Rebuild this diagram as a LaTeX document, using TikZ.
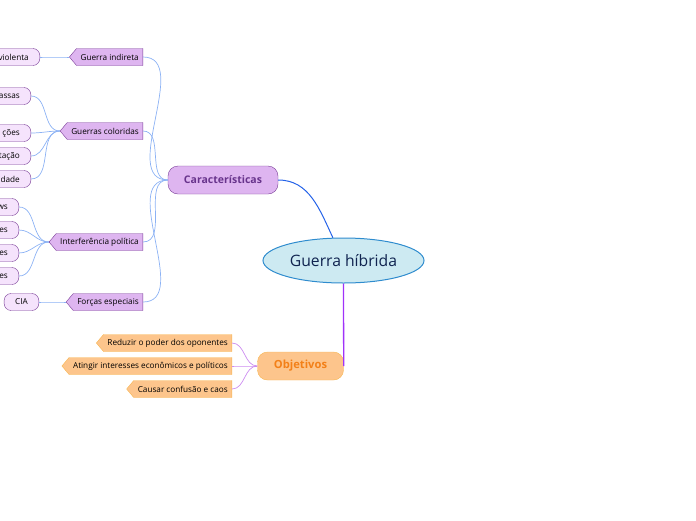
\documentclass[tikz,border=0pt]{standalone}
\usepackage{fontspec}
\setmainfont{Open Sans}
\usepackage{xcolor}
\usetikzlibrary{shapes.geometric,shapes.symbols}
\definecolor{skyfill}{RGB}{205,234,242}
\definecolor{skyedge}{RGB}{47,140,206}
\definecolor{navy}{RGB}{16,36,80}
\definecolor{plumfill}{RGB}{222,181,240}
\definecolor{plumedge}{RGB}{122,62,152}
\definecolor{plumtext}{RGB}{104,52,140}
\definecolor{lilac}{RGB}{245,227,252}
\definecolor{peach}{RGB}{253,197,140}
\definecolor{peachedge}{RGB}{247,182,80}
\definecolor{tangerine}{RGB}{243,128,24}
\definecolor{trunkblue}{RGB}{36,98,232}
\definecolor{twigblue}{RGB}{140,178,244}
\definecolor{trunkviolet}{RGB}{160,50,250}
\definecolor{twigviolet}{RGB}{204,140,240}

\begin{document}
\begin{tikzpicture}[x=1pt,y=-1pt,
  font=\fontsize{8.2}{9}\selectfont,
  hub/.style={ellipse,draw=skyedge,fill=skyfill,line width=1pt,minimum width=161pt,minimum height=45pt,inner sep=0pt,text=navy,font=\fontsize{15.7}{17}\selectfont},
  topic/.style={rectangle,rounded corners=10pt,draw=plumedge,fill=plumfill,minimum width=110pt,minimum height=28pt,text=plumtext,font=\fontsize{10.5}{12}\selectfont\bfseries},
  goal/.style={rectangle,rounded corners=10pt,draw=peachedge,fill=peach,minimum width=86pt,minimum height=28pt,text=tangerine,font=\fontsize{11.2}{12}\selectfont\bfseries},
  sub/.style={signal,signal to=west,signal pointer angle=100,draw=plumedge,fill=plumfill,minimum height=17pt,inner xsep=4pt,inner ysep=0pt,anchor=east},
  aim/.style={signal,signal to=west,signal pointer angle=100,draw=peachedge,fill=peach,minimum height=17pt,inner xsep=4pt,inner ysep=0pt,anchor=east},
  leaf/.style={rectangle,rounded corners=7pt,draw=plumedge,fill=lilac,minimum height=17pt,inner xsep=11pt,inner ysep=0pt,anchor=east},
  cutleaf/.style={leaf,text width=60pt,align=right},
  trunk/.style={draw=trunkblue,line width=1pt},
  twig/.style={draw=twigblue,line width=0.7pt},
  vtrunk/.style={draw=trunkviolet,line width=1.3pt},
  vtwig/.style={draw=twigviolet,line width=0.7pt}
]
\useasboundingbox (0,0) rectangle (696,520);

% centre and main branches
\node[hub] (gh) at (343.5,260.5) {Guerra híbrida};
\node[topic] (car) at (223,180) {Características};
\node[goal] (ob) at (300.5,366) {Objetivos};

% caracteristicas
\node[sub] (gi) at (143,57) {Guerra indireta};
\node[sub] (gc) at (143,131) {Guerras coloridas};
\node[sub] (ip) at (143,242) {Interferência política};
\node[sub] (fe) at (143,302) {Forças especiais};

\node[cutleaf] (l1) at (40,57) {violenta};
\node[cutleaf] (l2) at (31,96) {assas};
\node[cutleaf] (l3) at (31,133) {ções};
\node[cutleaf] (l4) at (31,156) {tação};
\node[cutleaf] (l5) at (31,179) {dade};
\node[cutleaf] (l6) at (19,207) {ws};
\node[cutleaf] (l7) at (19,230) {es};
\node[cutleaf] (l8) at (19,253) {es};
\node[cutleaf] (l9) at (19,276) {es};
\node[leaf] (cia) at (39,302) {CIA};

% objetivos
\node[aim] (o1) at (232,343) {Reduzir o poder dos oponentes};
\node[aim] (o2) at (232,366) {Atingir interesses econômicos e políticos};
\node[aim] (o3) at (232,389) {Causar confusão e caos};

\draw[trunk] (car.east) to[out=0,in=115] (gh.115);
\draw[vtrunk] (gh.south) -- (ob.east);

\foreach \s in {gi,gc,ip,fe}
  \draw[twig] (car.west) to[out=180,in=0] (\s.east);
\draw[twig] (gi.west) to[out=180,in=0] (l1.east);
\foreach \l in {l2,l3,l4,l5}
  \draw[twig] (gc.west) to[out=180,in=0] (\l.east);
\foreach \l in {l6,l7,l8,l9}
  \draw[twig] (ip.west) to[out=180,in=0] (\l.east);
\draw[twig] (fe.west) to[out=180,in=0] (cia.east);

\foreach \o in {o1,o2,o3}
  \draw[vtwig] (ob.west) to[out=180,in=0] (\o.east);
\end{tikzpicture}
\end{document}
